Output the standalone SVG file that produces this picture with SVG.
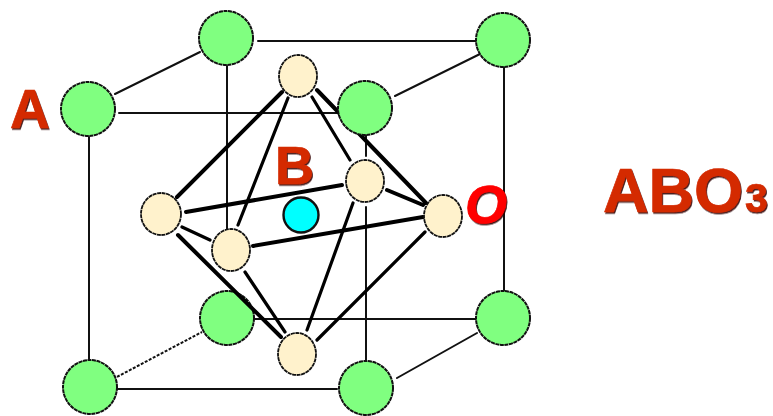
<svg xmlns="http://www.w3.org/2000/svg" width="773" height="416" viewBox="0 0 773 416">
<style>
.e{fill:none;stroke:#111;stroke-width:2;stroke-linecap:round}
.b{fill:none;stroke:#000;stroke-width:4;stroke-linecap:round}
.m{fill:none;stroke:#000;stroke-width:3.2;stroke-linecap:round}
.d{stroke-dasharray:3 1.5;stroke-linecap:butt}
.a{fill:#80ff80;stroke:#111;stroke-width:2;stroke-dasharray:4 .6}
.o{fill:#fff2cc;stroke:#111;stroke-width:1.8;stroke-dasharray:4 .6}
.c{fill:#00ffff;stroke:#111;stroke-width:2.4}
text{font-family:"Liberation Sans",Arial,sans-serif;font-weight:700;fill:#d42a00;stroke:#d42a00;stroke-width:.7;filter:url(#s)}
</style>
<defs><filter id="s" x="-20%" y="-20%" width="140%" height="140%"><feDropShadow dx="1" dy="1.5" stdDeviation="0.7" flood-color="#300" flood-opacity=".9"/></filter></defs>
<rect width="773" height="416" fill="#fff"/>
<g id="a5"><circle class="a" cx="227" cy="318" r="27"/></g>
<g id="connectors">
<path class="e" d="M258 41H503M227 66V230M119 113H340M115 94L200 52M89 137V362M504 66V292M366 207V361M254 319H476M116 389H337M397 378L477 333M395 96L480 54M366 135V156"/>
<path class="e d" d="M113 379L202 332"/>
<path class="b" d="M282 92L177 197M317 90L426 203M186 212L342 185M253 246L423 217M178 235L281 337M387 190L423 205"/>
<path class="m" d="M288 98L238 225M312 97L350 160M182 227L210 240M245 272L285 332M353 203L307 330M425 232L317 340"/>
</g>
<g id="a1"><circle class="a" cx="226" cy="38" r="27"/></g>
<g id="a2"><circle class="a" cx="503" cy="40" r="27"/></g>
<g id="a3"><circle class="a" cx="88" cy="109" r="27"/></g>
<g id="a4"><circle class="a" cx="365" cy="108" r="27"/></g>
<g id="a6"><circle class="a" cx="503" cy="318" r="27"/></g>
<g id="a7"><circle class="a" cx="90" cy="387" r="27"/></g>
<g id="a8"><circle class="a" cx="366" cy="388" r="27"/></g>
<g id="o1"><ellipse class="o" cx="298" cy="76" rx="19" ry="21"/></g>
<g id="o2"><ellipse class="o" cx="161" cy="214" rx="20" ry="21"/></g>
<g id="o3"><ellipse class="o" cx="231" cy="250" rx="19" ry="21"/></g>
<g id="o4"><ellipse class="o" cx="365" cy="181" rx="19" ry="21"/></g>
<g id="o5"><ellipse class="o" cx="443" cy="216" rx="19" ry="21"/></g>
<g id="o6"><ellipse class="o" cx="297" cy="354" rx="19" ry="21"/></g>
<g id="b"><circle class="c" cx="301" cy="215" r="17.5"/></g>
<text x="10" y="128" font-size="55">A</text>
<text x="275" y="184" font-size="54">B</text>
<text x="465" y="223" font-size="54" font-style="italic" style="fill:#f00;stroke:#f00">O</text>
<text x="603" y="212" font-size="63">ABO<tspan font-size="41" dx="2">3</tspan></text>
</svg>
